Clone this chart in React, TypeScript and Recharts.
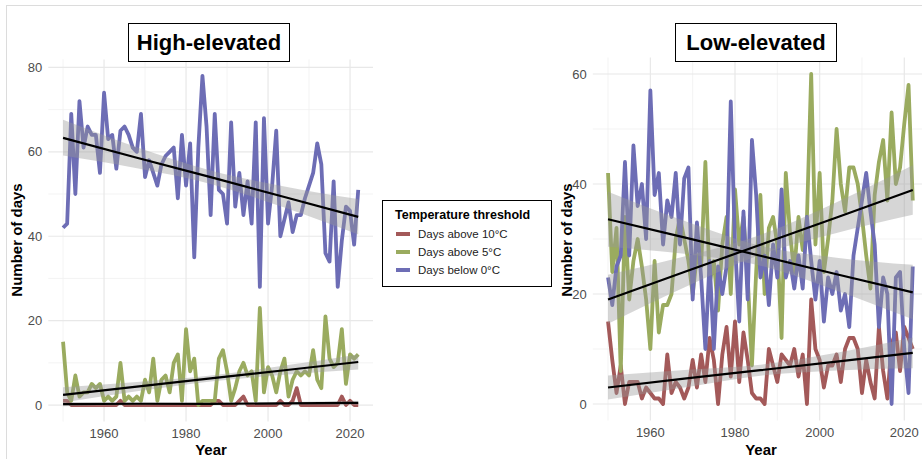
import { ComposedChart, Line, Area, XAxis, YAxis, CartesianGrid } from "recharts";

const FONT = '"Liberation Sans", Arial, Helvetica, sans-serif';

// years on the x axis
const years = Array.from({ length: 73 }, (_, i) => 1950 + i);
const xTicks = [1960, 1980, 2000, 2020];
const xMinor = [1950, 1970, 1990, 2010];

// High-elevated stations
const highAbove10 = [
  1, 1, 0, 0, 0, 0, 0, 0, 0, 0,
  0, 0, 0, 0, 1, 0, 0, 0, 0, 0,
  0, 0, 0, 0, 0, 0, 0, 0, 0, 0,
  0, 0, 0, 0, 0, 0, 0, 1, 1, 0,
  0, 0, 0, 1, 2, 0, 0, 0, 0, 0,
  0, 0, 0, 1, 0, 0, 1, 4, 0, 0,
  0, 0, 0, 0, 0, 0, 0, 0, 2, 0,
  1, 0, 0,
];
const highAbove5 = [
  15, 3, 1, 7, 2, 3, 3, 5, 4, 5,
  1, 2, 1, 2, 10, 1, 2, 1, 2, 1,
  6, 3, 11, 1, 6, 7, 3, 10, 12, 1,
  18, 8, 11, 0, 1, 1, 1, 1, 11, 13,
  8, 1, 4, 8, 10, 7, 8, 1, 23, 3,
  9, 7, 3, 8, 11, 2, 6, 8, 7, 8,
  7, 13, 6, 4, 21, 11, 9, 10, 18, 5,
  12, 11, 12,
];
const highBelow0 = [
  42, 43, 69, 50, 72, 61, 66, 64, 64, 55,
  74, 63, 64, 56, 65, 66, 64, 61, 60, 69,
  54, 58, 55, 52, 57, 59, 60, 61, 49, 64,
  52, 62, 35, 61, 78, 66, 45, 69, 51, 50,
  43, 67, 47, 55, 45, 53, 43, 67, 28, 68,
  43, 52, 65, 40, 44, 48, 41, 45, 45, 49,
  52, 55, 62, 57, 36, 34, 53, 28, 39, 47,
  46, 38, 51,
];

// Low-elevated stations
const lowAbove10 = [
  15, 8, 2, 7, 0, 4, 4, 4, 1, 3,
  2, 1, 1, 0, 9, 2, 4, 3, 1, 3,
  8, 3, 9, 4, 12, 8, 0, 9, 14, 5,
  15, 4, 13, 8, 2, 1, 1, 0, 10, 7,
  4, 9, 8, 7, 10, 5, 9, 0, 19, 10,
  8, 3, 7, 7, 9, 4, 10, 12, 12, 10,
  2, 8, 4, 1, 14, 6, 1, 11, 13, 6,
  14, 12, 10,
];
const lowAbove5 = [
  42, 24, 32, 6, 34, 19, 26, 30, 25, 19,
  10, 26, 13, 18, 18, 20, 30, 34, 30, 26,
  20, 27, 25, 44, 22, 26, 17, 29, 34, 20,
  39, 29, 34, 23, 7, 24, 38, 20, 32, 34,
  29, 12, 42, 31, 24, 34, 28, 34, 60, 29,
  42, 24, 30, 37, 50, 40, 35, 43, 43, 40,
  34, 27, 21, 38, 44, 48, 37, 53, 40, 43,
  51, 58, 37,
];
const lowBelow0 = [
  23, 18, 25, 27, 44, 27, 47, 36, 40, 30,
  57, 38, 42, 29, 37, 34, 42, 29, 41, 43,
  19, 33, 23, 10, 26, 10, 25, 20, 25, 55,
  29, 15, 35, 19, 48, 38, 23, 27, 18, 29,
  23, 39, 23, 26, 21, 27, 21, 34, 26, 19,
  26, 15, 23, 20, 24, 17, 20, 14, 27, 32,
  37, 42, 35, 29, 14, 23, 20, 0, 23, 24,
  10, 2, 25,
];

// linear trends with confidence band, read at these years
const fitYears = [1950, 1968, 1986, 2004, 2022];
const highFit10 = [0.2, 0.3, 0.3, 0.4, 0.5];
const highLo10 = [-0.3, 0, 0.1, 0.1, 0];
const highHi10 = [0.7, 0.6, 0.5, 0.7, 1];
const highFit5 = [2.4, 4.35, 6.3, 8.25, 10.2];
const highLo5 = [0.6, 3.25, 5.6, 7.15, 8.4];
const highHi5 = [4.2, 5.45, 7.0, 9.35, 12.0];
const highFit0 = [63.3, 58.6, 54.0, 49.3, 44.6];
const highLo0 = [59.1, 56.1, 52.4, 46.8, 40.4];
const highHi0 = [67.6, 61.1, 55.6, 51.8, 48.8];

const lowFit10 = [3.0, 4.6, 6.15, 7.7, 9.3];
const lowLo10 = [0.8, 3.0, 5.15, 6.1, 6.5];
const lowHi10 = [5.2, 6.2, 7.15, 9.3, 12.1];
const lowFit5 = [19.0, 24.0, 28.95, 33.9, 38.9];
const lowLo5 = [14.6, 21.2, 27.15, 31.1, 34.4];
const lowHi5 = [23.5, 26.8, 30.75, 36.7, 43.4];
const lowFit0 = [33.6, 30.3, 26.95, 23.6, 20.3];
const lowLo0 = [28.6, 27.3, 25.15, 20.6, 15.4];
const lowHi0 = [38.6, 33.3, 28.75, 26.6, 25.3];

const RED = "#a35959";
const GREEN = "#9aab5f";
const BLUE = "#6d6db5";

type Inset = { left: number; right: number; top: number; bottom: number };

function Panel(props: {
  x: number;
  above10: number[];
  above5: number[];
  below0: number[];
  fits: { fit: number[]; lo: number[]; hi: number[] }[];
  yDomain: [number, number];
  yTicks: number[];
  yMinor: number[];
  inset: Inset;
}) {
  const { x, above10, above5, below0, fits, yDomain, yTicks, yMinor, inset } = props;
  const W = 400;
  const H = 459;
  const rows = years.map((year, i) => ({
    year,
    above10: above10[i],
    above5: above5[i],
    below0: below0[i],
  }));
  const fitRows = fitYears.map((year, j) => ({
    year,
    f10: fits[0].fit[j],
    b10: [fits[0].lo[j], fits[0].hi[j]],
    f5: fits[1].fit[j],
    b5: [fits[1].lo[j], fits[1].hi[j]],
    f0: fits[2].fit[j],
    b0: [fits[2].lo[j], fits[2].hi[j]],
  }));
  const xDomain: [number, number] = [1946.4, 2025.6];
  const tickStyle = { fill: "#4d4d4d", fontSize: 13, fontFamily: FONT };
  const lineProps = {
    type: "linear" as const,
    strokeWidth: 3.8,
    dot: false,
    isAnimationActive: false,
    strokeLinejoin: "round" as const,
  };

  return (
    <>
      <div style={{ position: "absolute", left: x, top: 0 }}>
        <ComposedChart
          width={W}
          height={H}
          data={rows}
          margin={{ top: inset.top, right: inset.right, bottom: 0, left: 0 }}
        >
          <CartesianGrid
            horizontalValues={yMinor}
            verticalValues={xMinor}
            stroke="#f0f0f0"
            strokeWidth={0.8}
          />
          <CartesianGrid
            horizontalValues={yTicks}
            verticalValues={xTicks}
            stroke="#e8e8e8"
            strokeWidth={1.2}
          />
          <XAxis
            dataKey="year"
            type="number"
            domain={xDomain}
            ticks={xTicks}
            height={inset.bottom}
            axisLine={false}
            tickLine={false}
            tickSize={4}
            tickMargin={3}
            tick={tickStyle}
            allowDataOverflow
          />
          <YAxis
            type="number"
            domain={yDomain}
            ticks={yTicks}
            width={inset.left}
            axisLine={false}
            tickLine={false}
            tickSize={4}
            tickMargin={2}
            tick={tickStyle}
            allowDataOverflow
          />
          <Line dataKey="above10" stroke={RED} {...lineProps} />
          <Line dataKey="above5" stroke={GREEN} {...lineProps} />
          <Line dataKey="below0" stroke={BLUE} {...lineProps} />
        </ComposedChart>
      </div>
      <div style={{ position: "absolute", left: x, top: 0 }}>
        <ComposedChart width={W} height={H} data={fitRows} margin={inset}>
          <XAxis dataKey="year" type="number" domain={xDomain} hide allowDataOverflow />
          <YAxis type="number" domain={yDomain} hide allowDataOverflow />
          {(["10", "5", "0"] as const).map((k) => [
            <Area
              key={"b" + k}
              dataKey={"b" + k}
              type="monotone"
              stroke="none"
              fill="#999999"
              fillOpacity={0.4}
              isAnimationActive={false}
            />,
            <Line
              key={"f" + k}
              dataKey={"f" + k}
              type="linear"
              stroke="#000"
              strokeWidth={2.2}
              dot={false}
              isAnimationActive={false}
            />,
          ])}
        </ComposedChart>
      </div>
    </>
  );
}

const titleBox = (left: number, text: string) => (
  <div
    style={{
      position: "absolute",
      left,
      top: 23,
      width: 162,
      height: 39,
      border: "1.5px solid #000",
      boxSizing: "border-box",
      background: "#fff",
      display: "flex",
      alignItems: "center",
      justifyContent: "center",
      fontWeight: 700,
      fontSize: 22,
    }}
  >
    {text}
  </div>
);

const yTitle = (cx: number) => (
  <div
    style={{
      position: "absolute",
      left: cx - 80,
      top: 240 - 10,
      width: 160,
      height: 20,
      lineHeight: "20px",
      textAlign: "center",
      transform: "rotate(-90deg)",
      fontWeight: 700,
      fontSize: 15,
      color: "#000",
    }}
  >
    Number of days
  </div>
);

const xTitle = (cx: number) => (
  <div
    style={{
      position: "absolute",
      left: cx - 40,
      top: 441,
      width: 80,
      textAlign: "center",
      fontWeight: 700,
      fontSize: 15,
      lineHeight: "18px",
    }}
  >
    Year
  </div>
);

const legendItems = [
  { label: "Days above 10°C", color: RED },
  { label: "Days above 5°C", color: GREEN },
  { label: "Days below 0°C", color: BLUE },
];

export default function App() {
  return (
    <div
      style={{
        position: "absolute",
        left: 0,
        top: 0,
        width: 922,
        height: 459,
        overflow: "hidden",
        background: "#fff",
        fontFamily: FONT,
      }}
    >
      <div
        style={{
          position: "absolute",
          left: 6,
          top: 5,
          width: 2000,
          height: 2000,
          border: "1px solid #dcdcdc",
        }}
      />
      <Panel
        x={0}
        above10={highAbove10}
        above5={highAbove5}
        below0={highBelow0}
        fits={[
          { fit: highFit10, lo: highLo10, hi: highHi10 },
          { fit: highFit5, lo: highLo5, hi: highHi5 },
          { fit: highFit0, lo: highLo0, hi: highHi0 },
        ]}
        yDomain={[-3.9, 81.9]}
        yTicks={[0, 20, 40, 60, 80]}
        yMinor={[10, 30, 50, 70]}
        inset={{ left: 48.3, right: 27, top: 59.4, bottom: 37.5 }}
      />
      <Panel
        x={540}
        above10={lowAbove10}
        above5={lowAbove5}
        below0={lowBelow0}
        fits={[
          { fit: lowFit10, lo: lowLo10, hi: lowHi10 },
          { fit: lowFit5, lo: lowLo5, hi: lowHi5 },
          { fit: lowFit0, lo: lowLo0, hi: lowHi0 },
        ]}
        yDomain={[-3, 63]}
        yTicks={[0, 20, 40, 60]}
        yMinor={[10, 30, 50]}
        inset={{ left: 52.8, right: 12, top: 57.5, bottom: 38.5 }}
      />
      {titleBox(128, "High-elevated")}
      {titleBox(675, "Low-elevated")}
      {yTitle(17)}
      {yTitle(567)}
      {xTitle(211)}
      {xTitle(761)}
      <div
        style={{
          position: "absolute",
          left: 382,
          top: 200,
          width: 170,
          height: 87,
          border: "1.3px solid #000",
          boxSizing: "border-box",
          background: "#fff",
        }}
      >
        <div
          style={{
            position: "absolute",
            left: 12,
            top: 6,
            fontWeight: 700,
            fontSize: 12.5,
            lineHeight: "16px",
            whiteSpace: "nowrap",
          }}
        >
          Temperature threshold
        </div>
        {legendItems.map((item, i) => (
          <div key={item.label}>
            <div
              style={{
                position: "absolute",
                left: 13,
                top: 31 + i * 18,
                width: 14,
                height: 4,
                background: item.color,
              }}
            />
            <div
              style={{
                position: "absolute",
                left: 35,
                top: 25 + i * 18,
                fontSize: 11.5,
                lineHeight: "16px",
                color: "#222",
                whiteSpace: "nowrap",
              }}
            >
              {item.label}
            </div>
          </div>
        ))}
      </div>
    </div>
  );
}
